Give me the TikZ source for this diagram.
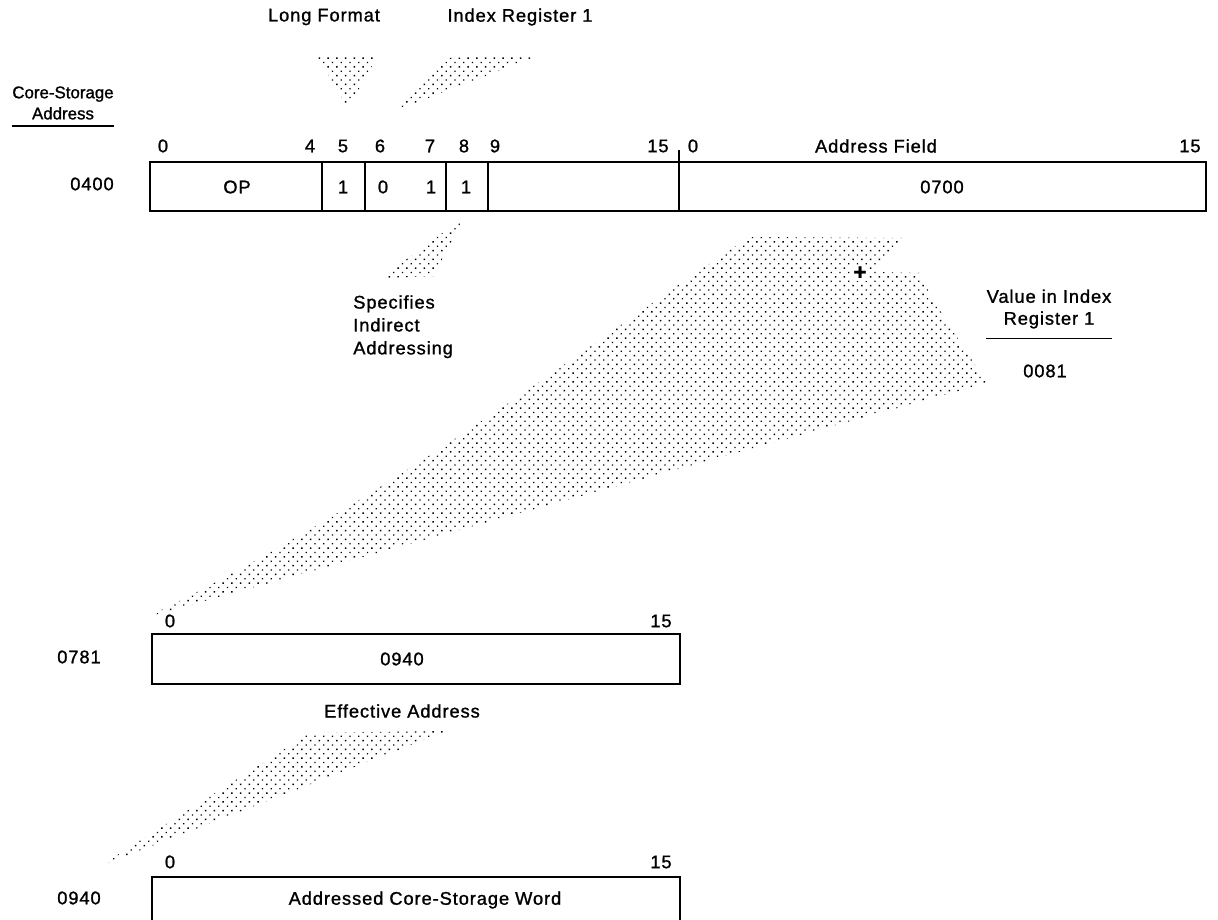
\documentclass[tikz,border=0pt]{standalone}
\usepackage{fontspec}
\setmainfont[LetterSpace=5, FakeBold=1.2]{Liberation Sans}
\newfontfamily\plainsans[FakeBold=1.2]{Liberation Sans}
\usetikzlibrary{patterns.meta, positioning, calc}

\begin{document}
\begin{tikzpicture}[x=0.025cm, y=-0.025cm, txt/.style={inner sep=0pt, font=\fontsize{13}{15}\selectfont}, hdr/.style={inner sep=0pt, font=\plainsans\fontsize{12}{15}\selectfont, align=center}, reg/.style={draw, line width=1.4pt}, rule/.style={line width=1.2pt}, stipple/.style={pattern={Dots[distance=4.4pt, radius=0.7pt, angle=45]}}]
\useasboundingbox (0,0) rectangle (1218,920);
% dotted wedges
\fill[stipple] (318,57) -- (377,57) -- (348,108) -- cycle;
\fill[stipple] (397,110) -- (447,58) -- (540,55) -- cycle;
\fill[stipple] (463,218) -- (434,276) -- (381,278) -- cycle;
\fill[stipple] (147,617) .. controls (400,495) and (620,320) .. (750,237) -- (903,238) -- (873,268) -- (880,272) -- (920,273) -- (935,303) -- (987,383) -- cycle;
\fill[stipple] (100,866) -- (310,733) -- (447,731) -- cycle;
\node[txt, fill=white, inner sep=1pt, font=\bfseries\fontsize{16}{16}\selectfont] (plus) at (860,273) {+};
% headings
\node[txt] (LongFmt) at (324,17) {Long Format};
\node[txt] (IdxReg) at (520,17) {Index Register 1};
\node[hdr] (CoreAddr) at (63,103) {Core-Storage\\Address};
\draw[rule] ([yshift=-4.6pt]CoreAddr.south west) -- ([yshift=-4.6pt]CoreAddr.south east);
% instruction word
\node[txt] (Addr400) at (92,184) {0400};
\draw[reg] (150,162) rectangle (1206,211);
\foreach \x in {322,365,446,488} \draw[reg] (\x,162) -- (\x,211);
\draw[reg] (679,150) -- (679,211);
\foreach \x/\t/\n in {163/0/b0, 310/4/b4, 343/5/b5, 380/6/b6, 430/7/b7, 464/8/b8, 495/9/b9, 658/15/b15, 693/0/c0, 1190/15/c15}
  \node[txt] (\n) at (\x,146) {\t};
\node[txt] (AddrFld) at (876,146) {Address Field};
\foreach \x/\t/\n in {237/OP/fOp, 343/1/f5, 383/0/f6, 431/1/f7, 466/1/f8, 942/0700/fAddr}
  \node[txt] (\n) at (\x,187) {\t};
\node[txt, align=left, anchor=north west, font=\fontsize{13}{16.3}\selectfont] (Indir) at (353,295) {Specifies\\Indirect\\Addressing};
% index register
\node[txt, align=center, font=\fontsize{13}{15.6}\selectfont] (ValIdx) at (1049,309) {Value in Index\\Register 1};
\draw[rule] ([yshift=-7pt]ValIdx.south west) -- ([yshift=-7pt]ValIdx.south east);
\node[txt] (Val81) at (1045,371) {0081};
% indirect word
\node[txt] (Addr781) at (79,657) {0781};
\draw[reg] (152,634) rectangle (680,684);
\node[txt] (w0) at (170,621) {0};
\node[txt] (w15) at (661,621) {15};
\node[txt] (Word940) at (402,659) {0940};
\node[txt] (EffAddr) at (402,711) {Effective Address};
% addressed word
\node[txt] (Addr940) at (79,898) {0940};
\draw[reg] (152,924) |- (680,877) -- (680,924);
\node[txt] (e0) at (170,862) {0};
\node[txt] (e15) at (661,862) {15};
\node[txt] (Target) at (425,900) {Addressed Core-Storage Word};
\end{tikzpicture}
\end{document}
